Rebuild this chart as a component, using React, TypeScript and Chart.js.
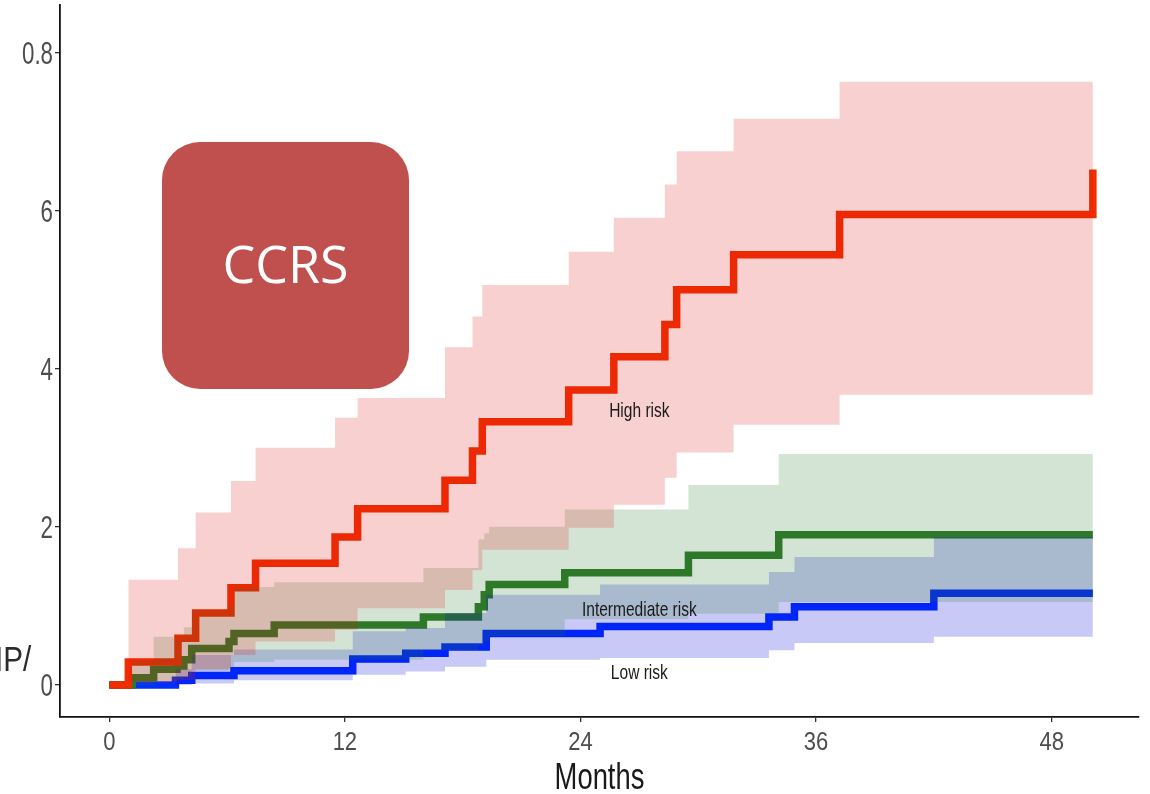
import React, { useEffect, useRef } from 'react';
import { Chart, registerables } from 'chart.js';

Chart.register(...registerables);

// ---------- data (months, cumulative incidence) ----------
const highTimes = [0, 0.97, 3.5, 4.4, 6.2, 7.45, 11.5, 12.65, 17.1, 18.5, 19.0, 23.4, 25.7, 28.3, 28.9, 31.8, 37.2, 50.1];
const highRisk = [0, 0.29, 0.59, 0.91, 1.23, 1.54, 1.87, 2.23, 2.59, 2.96, 3.33, 3.73, 4.15, 4.56, 5.0, 5.44, 5.95, 6.52];
const highBandTimes = [0.97, 3.5, 4.4, 6.2, 7.45, 11.5, 12.65, 17.1, 18.5, 19.0, 23.4, 25.7, 28.3, 28.9, 31.8, 37.2, 50.1];
const highUpper = [1.33, 1.73, 2.18, 2.58, 3.0, 3.38, 3.63, 4.27, 4.66, 5.06, 5.48, 5.91, 6.33, 6.75, 7.16, 7.63, 7.63];
const highLower = [0.03, 0.06, 0.2, 0.38, 0.55, 0.7, 0.97, 1.2, 1.45, 1.71, 1.99, 2.28, 2.62, 2.94, 3.29, 3.67, 3.67];

const midTimes = [0, 1.17, 2.26, 3.45, 3.8, 4.2, 6.1, 6.35, 8.4, 16.0, 18.8, 19.1, 19.35, 23.2, 29.5, 34.1, 50.1];
const midRisk = [0, 0.09, 0.2, 0.24, 0.32, 0.46, 0.55, 0.65, 0.76, 0.86, 0.99, 1.14, 1.27, 1.42, 1.64, 1.9, 1.9];
const midBandTimes = [1.17, 2.26, 3.45, 3.8, 4.2, 6.1, 6.35, 8.4, 16.0, 18.8, 19.1, 19.35, 23.2, 29.5, 34.1, 50.1];
const midUpper = [0.3, 0.61, 0.61, 0.73, 0.95, 1.0, 1.24, 1.3, 1.48, 1.84, 1.92, 2.0, 2.22, 2.53, 2.92, 2.92];
const midLower = [0.0, 0.05, 0.07, 0.1, 0.18, 0.22, 0.29, 0.32, 0.44, 0.5, 0.55, 0.62, 0.83, 0.9, 1.05, 1.05];

const lowTimes = [0, 3.37, 4.2, 6.35, 12.4, 15.1, 17.1, 19.2, 25.0, 33.6, 34.9, 42.0, 50.1];
const lowRisk = [0, 0.06, 0.12, 0.18, 0.33, 0.4, 0.48, 0.65, 0.74, 0.86, 0.99, 1.16, 1.16];
const lowBandTimes = [3.37, 4.2, 6.35, 12.4, 15.1, 17.1, 19.2, 25.0, 33.6, 34.9, 42.0, 50.1];
const lowUpper = [0.2, 0.38, 0.45, 0.68, 0.72, 0.91, 1.14, 1.27, 1.43, 1.62, 1.87, 1.87];
const lowLower = [0.0, 0.02, 0.06, 0.13, 0.17, 0.23, 0.32, 0.34, 0.44, 0.53, 0.61, 0.61];

const xTickValues = [0, 12, 24, 36, 48];
const xTickLabels = ['0', '12', '24', '36', '48'];
const yTickValues = [0, 2, 4, 6, 8];
const yTickLabels = ['0', '2', '4', '6', '0.8'];

const curveLabels = ['High risk', 'Intermediate risk', 'Low risk'];
const curveLabelTimes = [27.0, 27.0, 27.0];
const curveLabelValues = [3.48, 0.97, 0.17];

const xTitle = 'Months';
const yTitleFragment = 'IP/';
const boxText = 'CCRS';

const SANS = "'Liberation Sans', Arial, sans-serif";

const pts = (xs: number[], ys: number[]) => xs.map((x, i) => ({ x, y: ys[i] }));

const line = (label: string, xs: number[], ys: number[], color: string, order: number) => ({
  label,
  data: pts(xs, ys),
  borderColor: color,
  borderWidth: 7.5,
  stepped: 'before' as const,
  pointRadius: 0,
  pointHoverRadius: 0,
  fill: false,
  borderCapStyle: 'butt' as const,
  borderJoinStyle: 'miter' as const,
  order,
});

const bandEdge = (label: string, xs: number[], ys: number[], fill: any, bg: string, order: number) => ({
  label,
  data: pts(xs, ys),
  borderColor: 'rgba(0,0,0,0)',
  borderWidth: 0,
  stepped: 'before' as const,
  pointRadius: 0,
  pointHoverRadius: 0,
  fill,
  backgroundColor: bg,
  order,
});

// condensed text: regular sans squeezed horizontally (Arial-Narrow-like)
function narrowText(ctx: CanvasRenderingContext2D, text: string, x: number, y: number, size: number, sx: number, align: CanvasTextAlign, color: string) {
  ctx.save();
  ctx.translate(x, y);
  ctx.scale(sx, 1);
  ctx.font = `${size}px ${SANS}`;
  ctx.fillStyle = color;
  ctx.textAlign = align;
  ctx.textBaseline = 'alphabetic';
  ctx.fillText(text, 0, 0);
  ctx.restore();
}

const textPlugin = {
  id: 'narrowText',
  afterDraw(chart: any) {
    const { ctx, scales, chartArea } = chart;
    const x = scales.x;
    const y = scales.y;
    // tick labels
    xTickValues.forEach((v, i) => narrowText(ctx, xTickLabels[i], x.getPixelForValue(v), 750, 25, 0.88, 'center', '#4d4d4d'));
    yTickValues.forEach((v, i) => narrowText(ctx, yTickLabels[i], 53, y.getPixelForValue(v) + 11.2, 31, 0.72, 'right', '#4d4d4d'));
    // axis title
    narrowText(ctx, xTitle, (chartArea.left + chartArea.right) / 2, 789, 37, 0.74, 'center', '#1a1a1a');
    // clipped y title fragment
    narrowText(ctx, yTitleFragment, -5, 671, 35, 0.85, 'left', '#2b2b2b');
    // curve labels
    curveLabels.forEach((t, i) => {
      narrowText(ctx, t, x.getPixelForValue(curveLabelTimes[i]), y.getPixelForValue(curveLabelValues[i]) + 7.5, 21, 0.74, 'center', '#1a1a1a');
    });
  },
};

export default function App() {
  const canvasRef = useRef<HTMLCanvasElement | null>(null);

  useEffect(() => {
    const canvas = canvasRef.current;
    if (!canvas) return;
    const chart = new Chart(canvas, {
      type: 'line',
      data: {
        datasets: [
          bandEdge('High upper', highBandTimes, highUpper, '+1', 'rgba(225,20,20,0.2)', 1),
          bandEdge('High lower', highBandTimes, highLower, false, 'rgba(0,0,0,0)', 1),
          bandEdge('Mid upper', midBandTimes, midUpper, '+1', 'rgba(40,120,40,0.2)', 2),
          bandEdge('Mid lower', midBandTimes, midLower, false, 'rgba(0,0,0,0)', 2),
          bandEdge('Low upper', lowBandTimes, lowUpper, '+1', 'rgba(0,0,220,0.21)', 3),
          bandEdge('Low lower', lowBandTimes, lowLower, false, 'rgba(0,0,0,0)', 3),
          line('High risk', highTimes, highRisk, '#F02F00', 10),
          line('Intermediate risk', midTimes, midRisk, '#307A2A', 11),
          line('Low risk', lowTimes, lowRisk, '#002FFF', 12),
        ] as any,
      },
      options: {
        responsive: false,
        animation: false,
        events: [],
        layout: { padding: { top: 5, right: 11, left: 0, bottom: 0 } },
        plugins: {
          legend: { display: false },
          tooltip: { enabled: false },
          filler: { drawTime: 'beforeDatasetDraw', propagate: false },
        },
        scales: {
          x: {
            type: 'linear',
            min: -2.51,
            max: 52.45,
            afterFit: (s: any) => { s.height = 77; },
            afterBuildTicks: (s: any) => { s.ticks = xTickValues.map((v) => ({ value: v })); },
            ticks: { display: false, autoSkip: false },
            grid: { drawOnChartArea: false, drawTicks: true, tickLength: 5, color: '#333', lineWidth: 1.3 },
            border: { display: true, color: '#111', width: 1.8 },
            title: { display: false, text: xTitle },
          },
          y: {
            type: 'linear',
            min: -0.405,
            max: 8.6,
            afterFit: (s: any) => { s.width = 60; },
            afterBuildTicks: (s: any) => { s.ticks = yTickValues.map((v) => ({ value: v })); },
            ticks: { display: false, autoSkip: false },
            grid: { drawOnChartArea: false, drawTicks: true, tickLength: 5, color: '#333', lineWidth: 1.3 },
            border: { display: true, color: '#111', width: 1.8 },
          },
        },
      },
      plugins: [textPlugin],
    } as any);
    return () => chart.destroy();
  }, []);

  return (
    <div style={{ position: 'fixed', left: 0, top: 0, width: 1150, height: 794, background: '#fff', overflow: 'hidden' }}>
      <canvas ref={canvasRef} width={1150} height={794} style={{ display: 'block', width: 1150, height: 794 }} />
      <div
        style={{
          position: 'absolute',
          left: 162,
          top: 142,
          width: 247,
          height: 247,
          background: '#C0504D',
          borderRadius: 38,
          display: 'flex',
          alignItems: 'center',
          justifyContent: 'center',
          color: '#fff',
          fontFamily: "'Open Sans', 'Noto Sans', sans-serif",
          fontSize: 52,
          lineHeight: 1,
          paddingBottom: 6,
          boxSizing: 'border-box',
        }}
      >
        {boxText}
      </div>
    </div>
  );
}
